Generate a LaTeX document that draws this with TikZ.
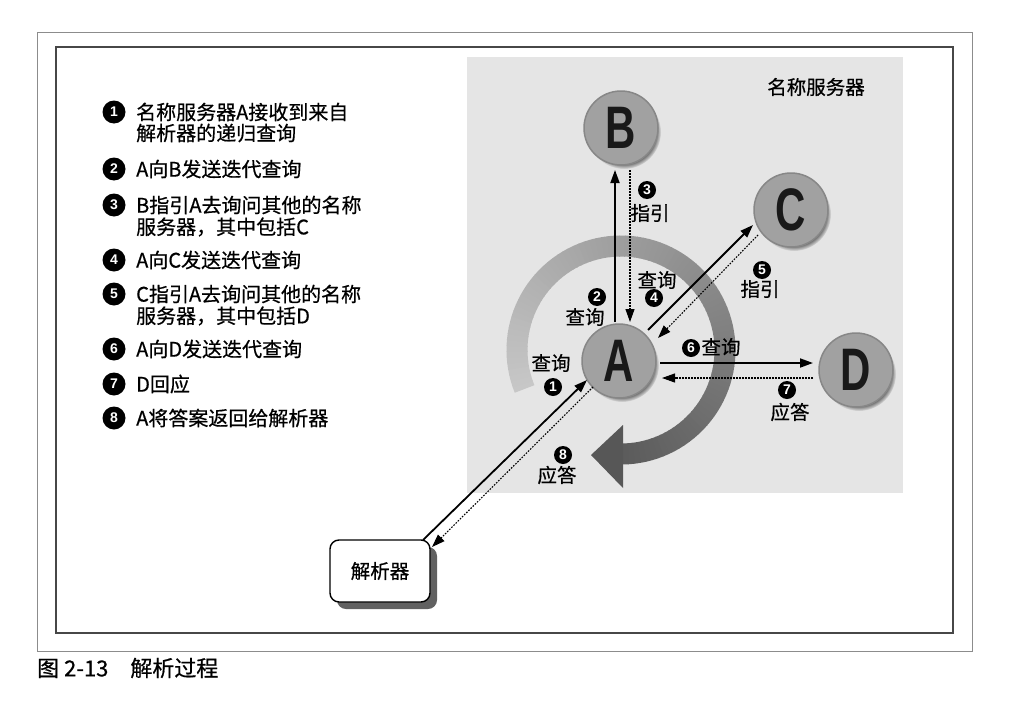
\documentclass[tikz,border=0pt]{standalone}
\usepackage{fontspec}
\usepackage{graphicx}
\newfontfamily\cjk{Noto Sans CJK SC}[FakeBold=0.6]
\newfontfamily\digf{Liberation Sans}[BoldFont={* Bold}]
\usetikzlibrary{arrows.meta,calc,shadows}
\newcommand\mkbadge[4]{\fill[black] (#2) circle[radius=#4];\node[badgetext] (#1) at (#2) {#3};}
\begin{document}
\begin{tikzpicture}[x=1pt,y=-1pt,
  disc/.style={circle, minimum size=74pt, inner sep=0pt, fill=black!37, draw=black!47, line width=1.5pt,
    circular drop shadow={shadow xshift=3pt, shadow yshift=-4pt, shadow scale=1, fill=black!60, opacity=1},
    font=\digf\bfseries\fontsize{60}{60}\selectfont, text=black!90},
  req/.style={line width=1.8pt, -{Triangle[length=13pt,width=9pt]}},
  rep/.style={line width=1.1pt, dash pattern=on 1.6pt off 1.4pt, -{Triangle[length=13pt,width=9pt]}},
  badgetext/.style={text=white, inner sep=0pt, font=\digf\bfseries\fontsize{14}{14}\selectfont},
  lbl/.style={font=\cjk\fontsize{19.5}{22}\selectfont, inner sep=0pt},
  item/.style={font=\cjk\fontsize{20}{24}\selectfont, inner sep=0pt, anchor=west},
]
\useasboundingbox (0,0) rectangle (1023,704);
\fill[white] (0,0) rectangle (1023,704);
% frames
\draw[black!45, line width=1pt] (37,32) rectangle (972,651);
\draw[black!72, line width=1.4pt] (56,47) rectangle (953,633);
\node[anchor=west, inner sep=0pt, font=\cjk\fontsize{22}{24}\selectfont] (cap) at (37,668) {图 2-13\hspace{22pt}解析过程};
% background of name servers
\fill[black!10] (467,57) rectangle (903,493);
% big circular arrow
\foreach \i in {0,...,96} {
  \pgfmathsetmacro\a{-202+3*\i}
  \pgfmathsetmacro\b{\a+3.4}
  \pgfmathsetmacro\c{22+42*\i/96}
  \draw[line width=21pt, color=black!\c] plot[domain=\a:\b, samples=3, variable=\t] ({621+104*cos(\t)},{350+104*sin(\t)});
}
\fill[black!66] (623,425) -- (623,488) -- (591,455) -- cycle;
% servers
\node[disc] (B) at (621,128) {\scalebox{0.7}[1]{B}};
\node[disc] (C) at (791,210) {\scalebox{0.7}[1]{C}};
\node[disc] (A) at (619,361) {\scalebox{0.7}[1]{A}};
\node[disc] (D) at (856,370) {\scalebox{0.7}[1]{D}};
\node[lbl] (ns) at (816,87) {名称服务器};
% resolver
\node[draw, rounded corners=9pt, line width=1.4pt, fill=white, minimum width=100pt, minimum height=62pt,
  drop shadow={shadow xshift=7pt, shadow yshift=-7pt, fill=black!62, opacity=1},
  font=\cjk\fontsize{19.5}{22}\selectfont] (R) at (380,571) {解析器};
% connectors
\draw[req] ($(A)+(-4,-39)$) -- ($(B)+(-6,42)$);
\draw[rep] ($(B)+(9,42)$) -- ($(A)+(11,-39)$);
\draw[req] ($(A)+(29,-31)$) -- ($(C)+(-38,15)$);
\draw[rep] ($(C)+(-33,25)$) -- ($(A)+(39,-23)$);
\draw[req] ($(A)+(41,2)$) -- ($(D)+(-43,-7)$);
\draw[rep] ($(D)+(-43,8)$) -- ($(A)+(43,17)$);
\draw[req] ($(R)+(43,-31)$) -- ($(A)+(-32,19)$);
\draw[rep] ($(A)+(-26,26)$) -- ($(R)+(52,-24)$);
% connector labels
\mkbadge{n3}{647,190}{3}{9pt} \node[lbl] (l3) at (650,213) {指引};
\mkbadge{n2}{597,297}{2}{9pt} \node[lbl] (l2) at (585,317) {查询};
\node[lbl] (l4) at (657,280) {查询}; \mkbadge{n4}{654,298}{4}{9pt}
\mkbadge{n5}{762,270}{5}{9pt} \node[lbl] (l5) at (760,289) {指引};
\mkbadge{n6}{691,348}{6}{9pt} \node[lbl] (l6) at (721,347) {查询};
\mkbadge{n7}{787,390}{7}{9pt} \node[lbl] (l7) at (790,412) {应答};
\node[lbl] (l1) at (551,363) {查询}; \mkbadge{n1}{553,387}{1}{9pt}
\mkbadge{n8}{563,455}{8}{9pt} \node[lbl] (l8) at (557,475) {应答};
% list
\mkbadge{b1}{114,112}{1}{11.5pt}
\node[item] (t1a) at (136,112) {名称服务器A接收到来自};
\node[item] (t1b) at (136,133) {解析器的递归查询};
\mkbadge{b2}{114,169}{2}{11.5pt}
\node[item] (t2) at (136,169) {A向B发送迭代查询};
\mkbadge{b3}{114,205}{3}{11.5pt}
\node[item] (t3a) at (136,205) {B指引A去询问其他的名称};
\node[item] (t3b) at (136,227) {服务器，其中包括C};
\mkbadge{b4}{114,260}{4}{11.5pt}
\node[item] (t4) at (136,260) {A向C发送迭代查询};
\mkbadge{b5}{114,294}{5}{11.5pt}
\node[item] (t5a) at (136,294) {C指引A去询问其他的名称};
\node[item] (t5b) at (136,316) {服务器，其中包括D};
\mkbadge{b6}{114,349}{6}{11.5pt}
\node[item] (t6) at (136,349) {A向D发送迭代查询};
\mkbadge{b7}{114,384}{7}{11.5pt}
\node[item] (t7) at (136,384) {D回应};
\mkbadge{b8}{114,418}{8}{11.5pt}
\node[item] (t8) at (136,418) {A将答案返回给解析器};
\end{tikzpicture}
\end{document}
